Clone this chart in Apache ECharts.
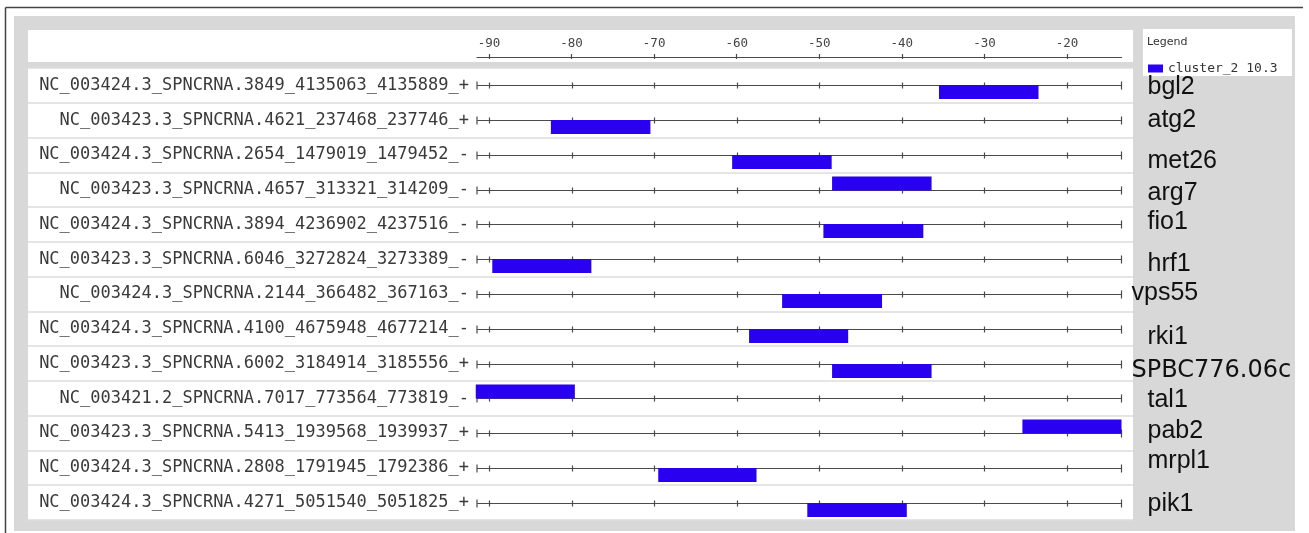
<!DOCTYPE html>
<html><head><meta charset="utf-8">
<script src="https://cdn.jsdelivr.net/npm/echarts@6/dist/echarts.min.js"></script>
<style>html,body{margin:0;padding:0;background:#fff}#c{width:1309px;height:533px}</style>
</head><body><div id="c"></div>
<script>
// ---------------- data ----------------
const rowLabels = [
  'NC_003424.3_SPNCRNA.3849_4135063_4135889_+',
  'NC_003423.3_SPNCRNA.4621_237468_237746_+',
  'NC_003424.3_SPNCRNA.2654_1479019_1479452_-',
  'NC_003423.3_SPNCRNA.4657_313321_314209_-',
  'NC_003424.3_SPNCRNA.3894_4236902_4237516_-',
  'NC_003423.3_SPNCRNA.6046_3272824_3273389_-',
  'NC_003424.3_SPNCRNA.2144_366482_367163_-',
  'NC_003424.3_SPNCRNA.4100_4675948_4677214_-',
  'NC_003423.3_SPNCRNA.6002_3184914_3185556_+',
  'NC_003421.2_SPNCRNA.7017_773564_773819_-',
  'NC_003423.3_SPNCRNA.5413_1939568_1939937_+',
  'NC_003424.3_SPNCRNA.2808_1791945_1792386_+',
  'NC_003424.3_SPNCRNA.4271_5051540_5051825_+'
];
const geneNames = ['bgl2','atg2','met26','arg7','fio1','hrf1','vps55','rki1','SPBC776.06c','tal1','pab2','mrpl1','pik1'];
const motifStart = [-35.5, -82.5, -60.55, -48.45, -49.5, -89.6, -54.5, -58.5, -48.45, -91.6, -25.4, -69.5, -51.45];
const motifEnd   = [-23.45, -70.45, -48.5, -36.4, -37.4, -77.6, -42.4, -46.5, -36.4, -79.6, -13.4, -57.6, -39.4];
const motifSide  = [-1, -1, -1, 1, -1, -1, -1, -1, -1, 1, 1, -1, -1]; // 1 = drawn above the line
const tickValues = [-90, -80, -70, -60, -50, -40, -30, -20];
const axisMin = -91.45, axisMax = -13.4;
const legendName = 'cluster_2 10.3';
const legendTitle = 'Legend';

// ---------------- styles / layout ----------------
const W = 1309, H = 533;
const PLOT_LEFT = 477, PLOT_RIGHT = W - 1121.5;
const ROW_TOP = 68, ROW_BOTTOM = H - 520;
const PANEL_LEFT = 28, PANEL_RIGHT = W - 1133;
const BAR_COLOR = '#2a00f0';
const LINE_COLOR = '#4a4a4a';
const geneDy = [2, 0, 6, 3, -2, 5, -1, 8, 7, 2, -2, -7, 1];
const geneDx = [16, 16, 16, 16, 16, 16, 0, 16, 0, 16, 16, 16, 16];
const geneFont = geneNames.map(g => g === 'SPBC776.06c' ? '24px "DejaVu Sans"' : '25px "Liberation Sans"');

const chart = echarts.init(document.getElementById('c'), null, {renderer: 'canvas', width: W, height: H});

function renderRow(params, api) {
  const idx = api.value(2);
  const a = api.coord([api.value(0), idx]);
  const b = api.coord([api.value(1), idx]);
  const y = Math.round(a[1]) + 0.5;
  const st = {stroke: LINE_COLOR, lineWidth: 1.2};
  const children = [{type: 'line', shape: {x1: a[0], y1: y, x2: b[0], y2: y}, style: st}];
  [a[0], b[0]].forEach(x => children.push({type: 'line', shape: {x1: x, y1: y - 4, x2: x, y2: y + 4}, style: st}));
  tickValues.forEach(v => {
    const x = Math.round(api.coord([v, idx])[0]) + 0.5;
    children.push({type: 'line', shape: {x1: x, y1: y - 3, x2: x, y2: y + 3}, style: st});
  });
  children.push({
    type: 'text', x: b[0] + 10 + geneDx[idx], y: a[1] + geneDy[idx],
    style: {text: geneNames[idx], font: geneFont[idx], fill: '#111', align: 'left', verticalAlign: 'middle'}
  });
  return {type: 'group', children};
}

function renderBar(params, api) {
  const idx = api.value(2);
  const s = api.coord([api.value(0), idx]);
  const e = api.coord([api.value(1), idx]);
  const h = 14;
  const y0 = Math.round(s[1]);
  return {
    type: 'rect',
    shape: {x: s[0], y: api.value(3) > 0 ? y0 - h + 0.5 : y0, width: e[0] - s[0], height: h},
    style: {fill: api.visual('color')}
  };
}

const option = {
  animation: false,
  backgroundColor: '#fff',
  graphic: [
    {type: 'rect', z: -100, shape: {x: 14, y: 16, width: 1281, height: 515}, style: {fill: '#d8d8d8'}},
    {type: 'line', z: -100, shape: {x1: 5.5, y1: 7.5, x2: 5.5, y2: 533}, style: {stroke: '#444', lineWidth: 1.5}},
    {type: 'line', z: -100, shape: {x1: 5.5, y1: 7.5, x2: 1303, y2: 7.5}, style: {stroke: '#444', lineWidth: 1.5}},
    {type: 'rect', z: -100, shape: {x: PANEL_LEFT, y: 30, width: W - PANEL_RIGHT - PANEL_LEFT, height: 32}, style: {fill: '#fff'}},
    {type: 'rect', z: -100, shape: {x: 1143, y: 29, width: 149, height: 47}, style: {fill: '#fff'}}
  ],
  title: {
    text: legendTitle, left: 1147, top: 37, padding: 0,
    textStyle: {fontSize: 11, fontWeight: 'normal', color: '#333', fontFamily: 'DejaVu Sans'}
  },
  legend: {
    data: [{name: legendName, icon: 'rect'}],
    left: 1148, top: 62, padding: 0, itemWidth: 15, itemHeight: 8, itemGap: 0,
    textStyle: {fontFamily: 'DejaVu Sans Mono', fontSize: 13, color: '#333'}
  },
  grid: [
    {left: PANEL_LEFT, right: PANEL_RIGHT, top: ROW_TOP, bottom: ROW_BOTTOM, outerBoundsMode: 'none'},
    {left: PLOT_LEFT, right: PLOT_RIGHT, top: ROW_TOP, bottom: ROW_BOTTOM, outerBoundsMode: 'none'},
    {left: PLOT_LEFT, right: PLOT_RIGHT, top: 56, height: 1, outerBoundsMode: 'none'}
  ],
  xAxis: [
    {gridIndex: 0, type: 'value', min: 0, max: 1, show: false},
    {gridIndex: 1, type: 'value', min: axisMin, max: axisMax, show: false},
    {gridIndex: 2, type: 'value', min: axisMin, max: axisMax, position: 'top',
      axisLine: {show: true, lineStyle: {color: LINE_COLOR, width: 1.2}},
      axisTick: {show: true, length: 3, customValues: tickValues, lineStyle: {color: LINE_COLOR, width: 1.2}},
      axisLabel: {show: true, customValues: tickValues, margin: 6, fontFamily: 'DejaVu Sans Mono', fontSize: 12.5, color: '#444'},
      splitLine: {show: false}},
    {gridIndex: 2, type: 'value', min: axisMin, max: axisMax, position: 'bottom',
      axisLine: {show: false},
      axisTick: {show: true, length: 2, customValues: tickValues, lineStyle: {color: LINE_COLOR, width: 1.2}},
      axisLabel: {show: false}, splitLine: {show: false}}
  ],
  yAxis: [
    {gridIndex: 0, type: 'category', inverse: true, data: rowLabels,
      axisLine: {show: false}, axisTick: {show: false}, axisLabel: {show: false},
      splitLine: {show: true, lineStyle: {color: '#dcdcdc', width: 1.5}},
      splitArea: {show: true, areaStyle: {color: ['#fff', '#fff']}}},
    {gridIndex: 1, type: 'category', inverse: true, data: rowLabels,
      axisLine: {show: false}, axisTick: {show: false}, splitLine: {show: false},
      axisLabel: {margin: 8, fontFamily: 'DejaVu Sans Mono', fontSize: 17, color: '#3a3a3a'}},
    {gridIndex: 2, type: 'value', show: false, min: 0, max: 1}
  ],
  series: [
    {type: 'custom', name: 'rows', xAxisIndex: 1, yAxisIndex: 1, renderItem: renderRow,
      encode: {x: [0, 1], y: 2}, silent: true, z: 2,
      data: rowLabels.map((l, i) => [axisMin, axisMax, i])},
    {type: 'custom', name: legendName, xAxisIndex: 1, yAxisIndex: 1, renderItem: renderBar,
      itemStyle: {color: BAR_COLOR}, encode: {x: [0, 1], y: 2}, z: 3,
      data: geneNames.map((g, i) => [motifStart[i], motifEnd[i], i, motifSide[i]])}
  ]
};
chart.setOption(option);
</script>
</body></html>
